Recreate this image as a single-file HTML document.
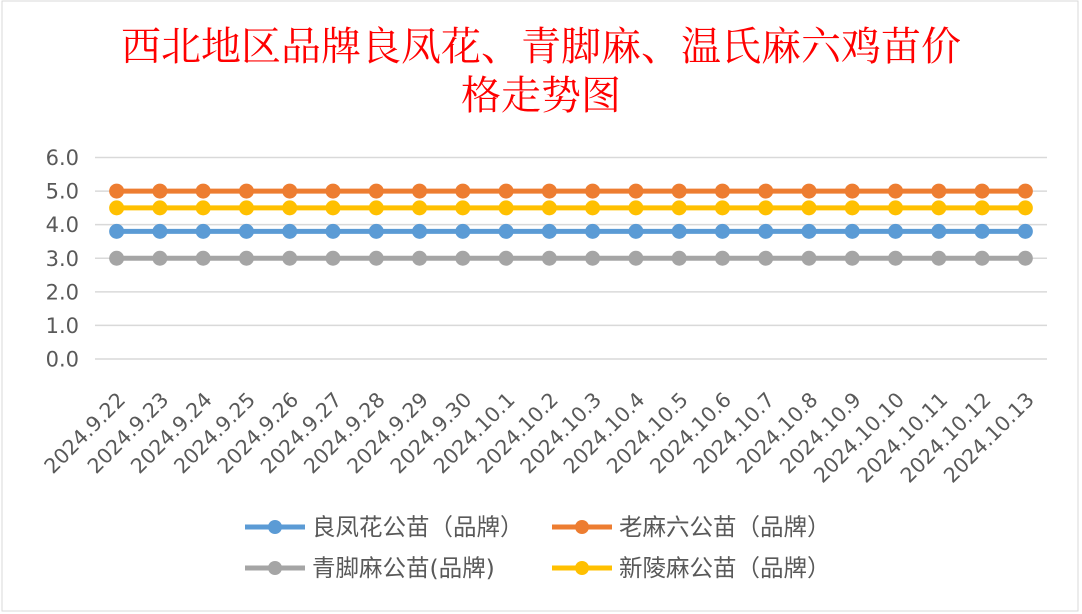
<!DOCTYPE html>
<html><head><meta charset="utf-8"><style>
body{margin:0;background:#fff;}
svg{display:block;font-family:"Liberation Sans","Noto Sans CJK SC",sans-serif;}
</style></head><body>
<svg id="chart" width="1082" height="614">
<rect x="2" y="1" width="1076" height="610" fill="#fff" stroke="#d9d9d9"/>
<text x="541" y="60" text-anchor="middle" font-family="'Liberation Serif','Noto Serif CJK SC',serif" font-size="40" fill="#ff0000">西北地区品牌良凤花、青脚麻、温氏麻六鸡苗价</text>
<text x="541" y="109" text-anchor="middle" font-family="'Liberation Serif','Noto Serif CJK SC',serif" font-size="40" fill="#ff0000">格走势图</text>
<g id="grid"></g><g id="series"></g><g id="xlabels"></g>
<g font-size="23.5" fill="#595959" font-family="'DejaVu Sans','Noto Sans CJK SC',sans-serif">
<g><line x1="245" y1="527" x2="305" y2="527" stroke="#5b9bd5" stroke-width="5"/><circle cx="275" cy="527" r="7" fill="#5b9bd5"/><text x="312" y="535">良凤花公苗（品牌）</text></g>
<g><line x1="552" y1="527" x2="612" y2="527" stroke="#ed7d31" stroke-width="5"/><circle cx="582" cy="527" r="7" fill="#ed7d31"/><text x="619" y="535">老麻六公苗（品牌）</text></g>
<g><line x1="245" y1="568" x2="305" y2="568" stroke="#a5a5a5" stroke-width="5"/><circle cx="275" cy="568" r="7" fill="#a5a5a5"/><text x="312" y="576">青脚麻公苗(品牌)</text></g>
<g><line x1="552" y1="568" x2="612" y2="568" stroke="#ffc000" stroke-width="5"/><circle cx="582" cy="568" r="7" fill="#ffc000"/><text x="619" y="576">新陵麻公苗（品牌）</text></g>
</g>
</svg>
<script>
const categories=["2024.9.22","2024.9.23","2024.9.24","2024.9.25","2024.9.26","2024.9.27","2024.9.28","2024.9.29","2024.9.30","2024.10.1","2024.10.2","2024.10.3","2024.10.4","2024.10.5","2024.10.6","2024.10.7","2024.10.8","2024.10.9","2024.10.10","2024.10.11","2024.10.12","2024.10.13"];
const liangfenghua=[3.8,3.8,3.8,3.8,3.8,3.8,3.8,3.8,3.8,3.8,3.8,3.8,3.8,3.8,3.8,3.8,3.8,3.8,3.8,3.8,3.8,3.8];
const laomaliu=[5.0,5.0,5.0,5.0,5.0,5.0,5.0,5.0,5.0,5.0,5.0,5.0,5.0,5.0,5.0,5.0,5.0,5.0,5.0,5.0,5.0,5.0];
const qingjiaoma=[3.0,3.0,3.0,3.0,3.0,3.0,3.0,3.0,3.0,3.0,3.0,3.0,3.0,3.0,3.0,3.0,3.0,3.0,3.0,3.0,3.0,3.0];
const xinlingma=[4.5,4.5,4.5,4.5,4.5,4.5,4.5,4.5,4.5,4.5,4.5,4.5,4.5,4.5,4.5,4.5,4.5,4.5,4.5,4.5,4.5,4.5];
const yTicks=["0.0","1.0","2.0","3.0","4.0","5.0","6.0"];
const NS="http://www.w3.org/2000/svg";
const plotL=95,plotR=1047,y0=359,y6=157.5,yMax=6;
const step=(plotR-plotL)/categories.length;
function xs(i){return plotL+step*(i+0.5);}
function ys(v){return y0-(y0-y6)*v/yMax;}
function mk(tag,attrs,parent){const e=document.createElementNS(NS,tag);for(const k in attrs)e.setAttribute(k,attrs[k]);parent.appendChild(e);return e;}
const grid=document.getElementById('grid');
yTicks.forEach(t=>{const v=parseFloat(t);
 const l=mk('line',{x1:plotL,x2:plotR,y1:ys(v),y2:ys(v),stroke:'#d9d9d9','stroke-width':1.5},grid);
 
 
 const tx=mk('text',{x:79,y:ys(v)+7.5,'text-anchor':'end','font-size':21,fill:'#595959','font-family':"'DejaVu Sans',sans-serif"},grid);
 tx.textContent=t;
 
 
});
const sg=document.getElementById('series');
[[qingjiaoma,'#a5a5a5','series-qingjiaoma'],[liangfenghua,'#5b9bd5','series-liangfenghua'],[xinlingma,'#ffc000','series-xinlingma'],[laomaliu,'#ed7d31','series-laomaliu']].forEach(([d,c,n])=>{
 const g=mk('g',{},sg);
 
 
 const p=mk('polyline',{points:d.map((v,i)=>xs(i)+','+ys(v)).join(' '),fill:'none',stroke:c,'stroke-width':5},g);
 
 
 d.forEach((v,i)=>{const ci=mk('circle',{cx:xs(i),cy:ys(v),r:7.5,fill:c},g);
  
  });
});
const xl=document.getElementById('xlabels');
categories.forEach((c,i)=>{const x=xs(i)+10,y=401;
 const t=mk('text',{x:x,y:y,'text-anchor':'end','font-size':20.5,fill:'#595959','font-family':"'DejaVu Sans',sans-serif",transform:`rotate(-45 ${x} ${y})`},xl);
 t.textContent=c;
 
 
});
</script>
</body></html>
